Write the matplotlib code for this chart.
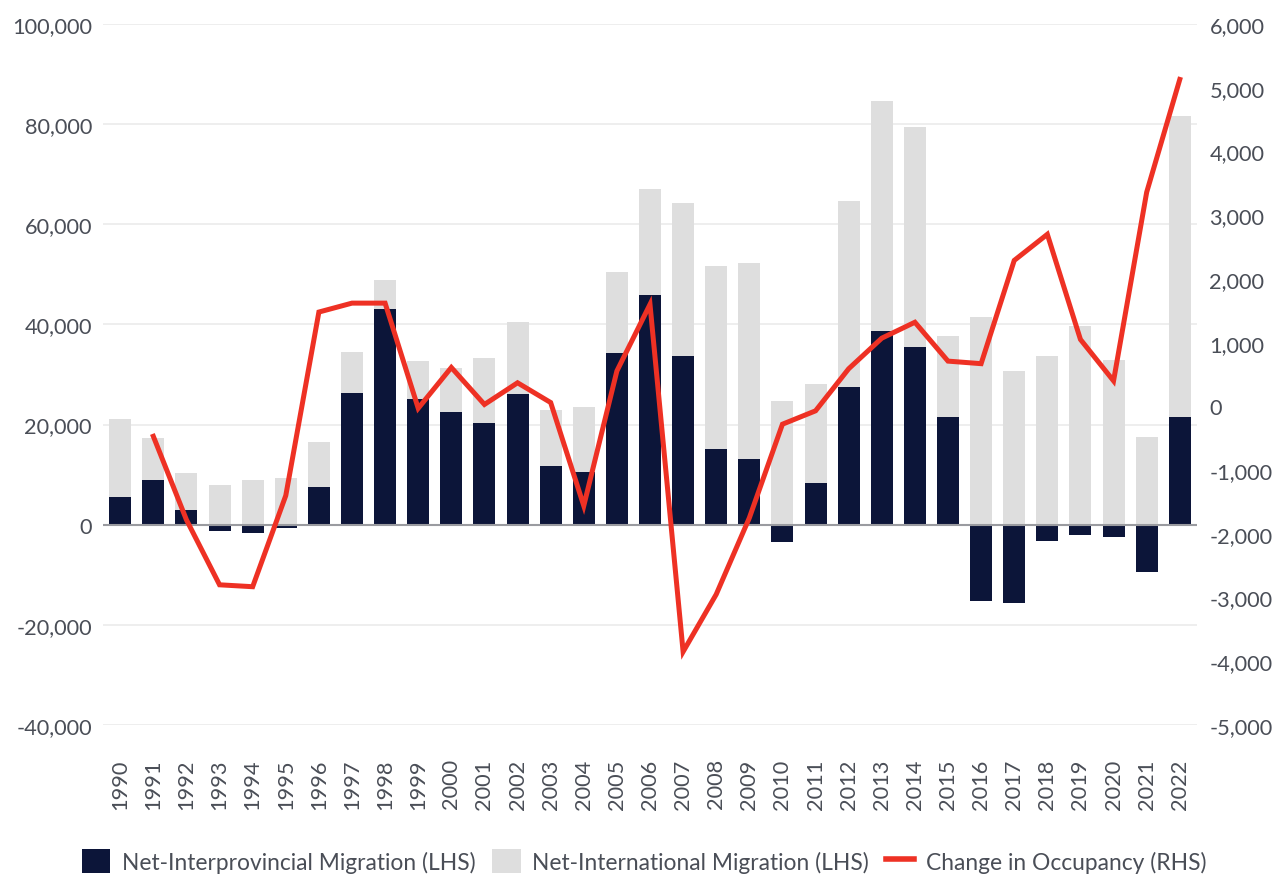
import numpy as np
import matplotlib
matplotlib.use("Agg")
import matplotlib.pyplot as plt
from matplotlib.patches import Patch
from matplotlib.lines import Line2D
from matplotlib.ticker import FuncFormatter

plt.rcParams['font.family'] = ['Lato', 'DejaVu Sans']

years = [str(y) for y in range(1990, 2023)]
interprovincial = [5600, 9000, 2900, -1200, -1700, -600, 7600, 26300, 43100, 25100,
                   22600, 20400, 26100, 11800, 10500, 34300, 45800, 33700, 15100, 13100,
                   -3400, 8300, 27600, 38600, 35400, 21600, -15200, -15600, -3300, -2100,
                   -2400, -9500, 21600]
international = [15500, 8300, 7500, 7900, 8900, 9300, 8900, 8100, 5800, 7600,
                 8600, 12800, 14300, 11100, 13000, 16200, 21200, 30600, 36600, 39100,
                 24700, 19800, 37100, 46100, 44100, 16000, 41400, 30600, 33600, 39700,
                 32800, 17600, 60100]
occupancy = [np.nan, -470, -1780, -2800, -2830, -1400, 1480, 1620, 1620, -30,
             610, 30, 370, 60, -1560, 555, 1600, -3850, -2950, -1750,
             -280, -70, 590, 1070, 1320, 710, 670, 2290, 2700, 1050,
             400, 3360, 5130]

navy = '#0c1539'
grey = '#dedede'
red = '#ee3124'
txt = '#4a4e57'

fig = plt.figure(figsize=(12.88, 8.78), dpi=100)
ax = fig.add_axes([103/1288, 1-726/878, (1197-103)/1288, (726-25)/878])
ax2 = ax.twinx()

x = np.arange(len(years))
inter = np.array(interprovincial)
bottom_intl = np.maximum(inter, 0)
w = 0.665
ax.bar(x, international, w, bottom=bottom_intl, color=grey, zorder=2)
ax.bar(x, interprovincial, w, color=navy, zorder=3)
ax.axhline(0, color='#9a9ba0', lw=1.5, zorder=4)

ax.set_ylim(-40000, 100000)
ax.set_yticks(range(-40000, 100001, 20000))
ax.yaxis.set_major_formatter(FuncFormatter(lambda v, p: f"{int(v):,}"))
ax.set_xlim(-0.52, len(years) - 0.48)
ax.set_xticks(x)
ax.set_xticklabels(years, rotation=90)
ax.grid(axis='y', color='#ebebeb', lw=1.2, zorder=0)
ax.set_axisbelow(True)

ax2.plot(x, occupancy, color=red, lw=3.6, solid_joinstyle='miter', zorder=5)
ax2.set_ylim(-5000, 6000)
ax2.set_yticks(range(-5000, 6001, 1000))
ax2.yaxis.set_major_formatter(FuncFormatter(lambda v, p: f"{int(v):,}"))

for a in (ax, ax2):
    for s in a.spines.values():
        s.set_visible(False)
    a.tick_params(length=0, labelsize=15.7, labelcolor=txt)
ax.tick_params(axis='x', pad=24)
ax.tick_params(axis='y', pad=8)
ax2.tick_params(axis='y', pad=9)

handles = [Patch(facecolor=navy, edgecolor='none'),
           Patch(facecolor=grey, edgecolor='none'),
           Line2D([0], [0], color=red, lw=4)]
labels = ['Net-Interprovincial Migration (LHS)', 'Net-International Migration (LHS)',
          'Change in Occupancy (RHS)']
leg = fig.legend(handles, labels, loc='center', bbox_to_anchor=(0.5, 1-862/878), ncol=3,
                 frameon=False, fontsize=16.4, handlelength=1.25, handleheight=1.3,
                 handletextpad=0.5, columnspacing=0.75, labelcolor=txt)

fig.savefig('out.png', dpi=100)
